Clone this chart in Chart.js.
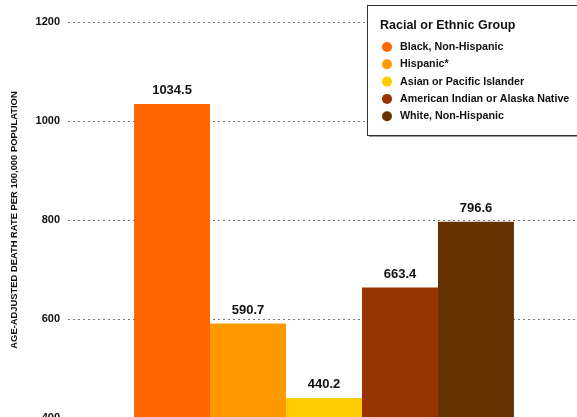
<!DOCTYPE html>
<html>
<head>
<meta charset="utf-8">
<script src="https://cdn.jsdelivr.net/npm/chart.js@4"></script>
<style>
  html, body { margin: 0; padding: 0; background: #fff; overflow: hidden; }
  #wrap { width: 577px; height: 417px; overflow: hidden; position: relative; }
  canvas { position: absolute; left: 0; top: 0; }
</style>
</head>
<body>
<div id="wrap"><canvas id="chart" width="580" height="440"></canvas></div>
<script>
var groups = ['Black, Non-Hispanic', 'Hispanic*', 'Asian or Pacific Islander', 'American Indian or Alaska Native', 'White, Non-Hispanic'];
var rates = [1034.5, 590.7, 440.2, 663.4, 796.6];
var colors = ['#ff6600', '#ff9900', '#ffcc00', '#993300', '#663300'];
var yTicks = [400, 600, 800, 1000, 1200];

var FONT = '"Liberation Sans", Arial, sans-serif';

// value labels above the bars
var barLabels = {
    id: 'barLabels',
    afterDatasetsDraw: function (chart) {
        var ctx = chart.ctx;
        ctx.save();
        ctx.font = 'bold 13px ' + FONT;
        ctx.fillStyle = '#111';
        ctx.textAlign = 'center';
        ctx.textBaseline = 'alphabetic';
        chart.data.datasets.forEach(function (ds, i) {
            var bar = chart.getDatasetMeta(i).data[0];
            ctx.fillText(ds.data[0].toFixed(1), bar.x, bar.y - 10);
        });
        ctx.restore();
    }
};

// boxed legend in the top right corner
var boxLegend = {
    id: 'boxLegend',
    afterDraw: function (chart) {
        var ctx = chart.ctx;
        var x = 367, y = 5, w = 230, h = 130;
        ctx.save();
        ctx.fillStyle = '#999';
        ctx.fillRect(x + 2, y + 2, w, h);
        ctx.fillStyle = '#fff';
        ctx.fillRect(x, y, w, h);
        ctx.strokeStyle = '#333';
        ctx.lineWidth = 1;
        ctx.strokeRect(x + 0.5, y + 0.5, w, h);

        ctx.fillStyle = '#111';
        ctx.textBaseline = 'middle';
        ctx.font = 'bold 12.5px ' + FONT;
        ctx.fillText('Racial or Ethnic Group', 380, 26);

        ctx.font = 'bold 10.7px ' + FONT;
        chart.data.datasets.forEach(function (ds, i) {
            var cy = 47 + i * 17.3;
            ctx.beginPath();
            ctx.arc(387, cy, 5, 0, Math.PI * 2);
            ctx.fillStyle = ds.backgroundColor;
            ctx.fill();
            ctx.fillStyle = '#111';
            ctx.fillText(ds.label, 400, cy);
        });
        ctx.restore();
    }
};

var ctx = document.getElementById('chart').getContext('2d');
var chart = new Chart(ctx, {
    type: 'bar',
    data: {
        labels: [''],
        datasets: groups.map(function (g, i) {
            return {
                label: g,
                data: [rates[i]],
                backgroundColor: colors[i],
                borderWidth: 0,
                barPercentage: 1,
                categoryPercentage: 0.742
            };
        })
    },
    options: {
        responsive: false,
        animation: false,
        layout: { padding: { top: 22, bottom: 22, left: 0, right: 0 } },
        plugins: {
            legend: { display: false },
            tooltip: { enabled: false }
        },
        scales: {
            x: { display: false },
            y: {
                min: 400,
                max: 1200,
                afterBuildTicks: function (scale) {
                    scale.ticks = yTicks.map(function (v) { return { value: v }; });
                },
                afterFit: function (scale) { scale.width = 68; },
                border: { display: false },
                grid: {
                    color: '#777',
                    lineWidth: 1,
                    drawTicks: false
                },
                ticks: {
                    padding: 8,
                    color: '#111',
                    font: { family: FONT, size: 11, weight: 'bold' },
                    callback: function (v) { return String(v); }
                },
                title: {
                    display: true,
                    text: 'AGE-ADJUSTED DEATH RATE PER 100,000 POPULATION',
                    color: '#111',
                    padding: { top: 9, bottom: 0 },
                    font: { family: FONT, size: 9.4, weight: 'bold' }
                }
            }
        }
    },
    plugins: [barLabels, boxLegend]
});

// dotted grid lines
chart.options.scales.y.border.dash = [2, 3];
chart.update();
</script>
</body>
</html>
